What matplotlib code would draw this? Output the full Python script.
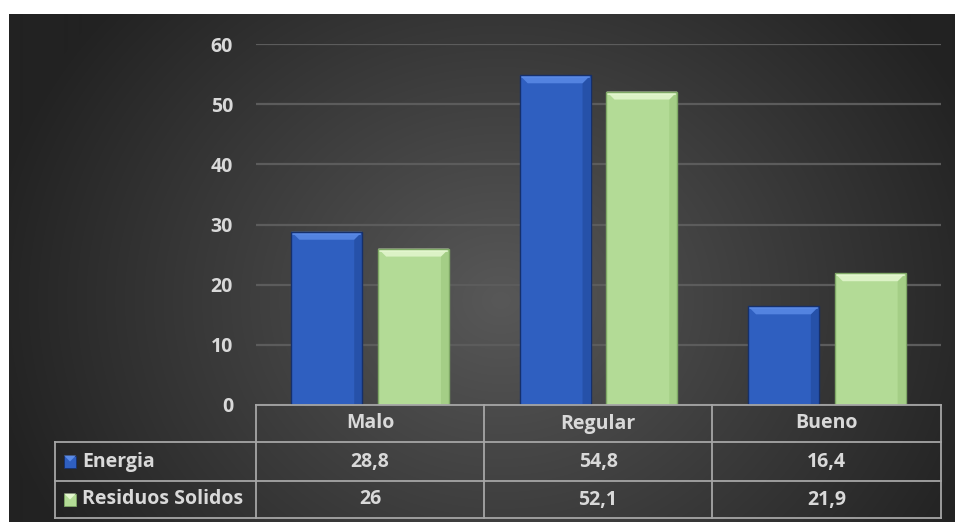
import numpy as np
import matplotlib
matplotlib.use("Agg")
import matplotlib.pyplot as plt
from matplotlib.patches import Rectangle, Polygon

categories = ["Malo", "Regular", "Bueno"]
series_names = ["Energia", "Residuos Solidos"]
energia = [28.8, 54.8, 16.4]
residuos = [26, 52.1, 21.9]
value_labels = [["28,8", "54,8", "16,4"], ["26", "52,1", "21,9"]]
yticks = [0, 10, 20, 30, 40, 50, 60]

W, H = 955, 522
TXT = "#d9d9d9"
FONT = "Open Sans"
FS = 14

styles = [
    dict(face="#2f5fc0", light="#5a8ae6", dark="#1d428f", edge="#16306b"),
    dict(face="#b3db96", light="#e4f7cf", dark="#93c074", edge="#7fa866"),
]

fig = plt.figure(figsize=(W / 100, H / 100), dpi=100)
fig.patch.set_facecolor("white")


def px_rect(x0, y0, x1, y1):
    """Figure-fraction rect from pixel box (top-left origin)."""
    return [x0 / W, 1 - y1 / H, (x1 - x0) / W, (y1 - y0) / H]


# dark panel with a soft radial glow
bg = fig.add_axes(px_rect(9, 14, 955, 522))
bg.set_axis_off()
gx, gy = np.meshgrid(np.arange(9, 955), np.arange(14, 522))
r = np.sqrt(((gx - 500) / 520.0) ** 2 + ((gy - 300) / 450.0) ** 2)
v = (0x58 - (0x58 - 0x22) * np.clip(r, 0, 1)) / 255.0
bg.imshow(np.dstack([v, v, v]), aspect="auto", interpolation="bilinear",
          extent=[0, 1, 0, 1], origin="upper")
bg.set_xlim(0, 1)
bg.set_ylim(0, 1)

# main plot area
ax = fig.add_axes(px_rect(256, 44, 941, 405))
ax.set_facecolor("none")
ax.set_xlim(0, 3)
ax.set_ylim(0, 60)
for s in ax.spines.values():
    s.set_visible(False)
ax.set_yticks(yticks)
ax.set_yticklabels([str(t) for t in yticks], fontname=FONT, fontsize=FS,
                   fontweight="bold", color=TXT)
ax.tick_params(axis="y", length=0, pad=16.5)
ax.set_xticks([])
ax.yaxis.grid(True, color="#5c5c5c", linewidth=1.6)
ax.set_axisbelow(True)

bar_w = 0.31
offset = 0.19
px_x = 1 / 228.3   # data units per pixel, horizontally
px_y = 60 / 361.0  # data units per pixel, vertically
bev = 8

for si, vals in enumerate([energia, residuos]):
    st = styles[si]
    for ci, val in enumerate(vals):
        xc = ci + 0.5 + (-offset if si == 0 else offset)
        x0, x1 = xc - bar_w / 2, xc + bar_w / 2
        bx, by = bev * px_x, bev * px_y
        ax.add_patch(Rectangle((x0, 0), bar_w, val, facecolor=st["face"],
                               edgecolor="none", zorder=3))
        # right-hand shading
        ax.add_patch(Polygon([(x1, 0), (x1, val), (x1 - bx, val - by), (x1 - bx, 0)],
                             closed=True, facecolor=st["dark"], edgecolor="none",
                             alpha=0.45, zorder=3.1))
        # top bevel
        ax.add_patch(Polygon([(x0, val), (x1, val), (x1 - bx, val - by), (x0 + bx, val - by)],
                             closed=True, facecolor=st["light"], edgecolor="none",
                             alpha=0.85, zorder=3.2))
        ax.plot([x0 + 2 * px_x, x1 - 2 * px_x], [val - 2 * px_y, val - 2 * px_y],
                color=st["light"], lw=1.2, zorder=3.25)
        ax.add_patch(Rectangle((x0, 0), bar_w, val, facecolor="none",
                               edgecolor=st["edge"], linewidth=1.0, zorder=3.3))

# data table below the plot (pixel coordinates)
tb = fig.add_axes(px_rect(0, 0, W, H))
tb.set_axis_off()
tb.set_xlim(0, W)
tb.set_ylim(H, 0)
tb.set_facecolor("none")

cols = [55, 256, 484, 712, 941]
rows = [405, 442, 481, 518]
lc = "#a6a6a6"
lw = 1.3
# header row (categories only)
tb.plot([cols[1], cols[-1]], [rows[0], rows[0]], color=lc, lw=lw)
for yy in rows[1:]:
    tb.plot([cols[0], cols[-1]], [yy, yy], color=lc, lw=lw)
tb.plot([cols[0], cols[0]], [rows[1], rows[3]], color=lc, lw=lw)
for xx in cols[1:]:
    tb.plot([xx, xx], [rows[0], rows[3]], color=lc, lw=lw)

for ci, cat in enumerate(categories):
    tb.text((cols[ci + 1] + cols[ci + 2]) / 2, (rows[0] + rows[1]) / 2, cat,
            ha="center", va="center", fontname=FONT, fontsize=FS,
            fontweight="bold", color=TXT)

for ri, name in enumerate(series_names):
    yc = (rows[ri + 1] + rows[ri + 2]) / 2
    st = styles[ri]
    k = 12
    kx, ky = 64, yc - k / 2
    tb.add_patch(Rectangle((kx, ky), k, k, facecolor=st["face"], edgecolor=st["edge"], lw=0.6))
    tb.add_patch(Polygon([(kx, ky), (kx + k, ky), (kx + k / 2, ky + k / 2)],
                         closed=True, facecolor=st["light"], edgecolor="none"))
    tb.text(82, yc, name, ha="left", va="center", fontname=FONT, fontsize=FS,
            fontweight="bold", color=TXT)
    for ci in range(3):
        tb.text((cols[ci + 1] + cols[ci + 2]) / 2, yc, value_labels[ri][ci],
                ha="center", va="center", fontname=FONT, fontsize=FS,
                fontweight="bold", color=TXT)

fig.savefig("out.png", dpi=100, facecolor=fig.get_facecolor())
